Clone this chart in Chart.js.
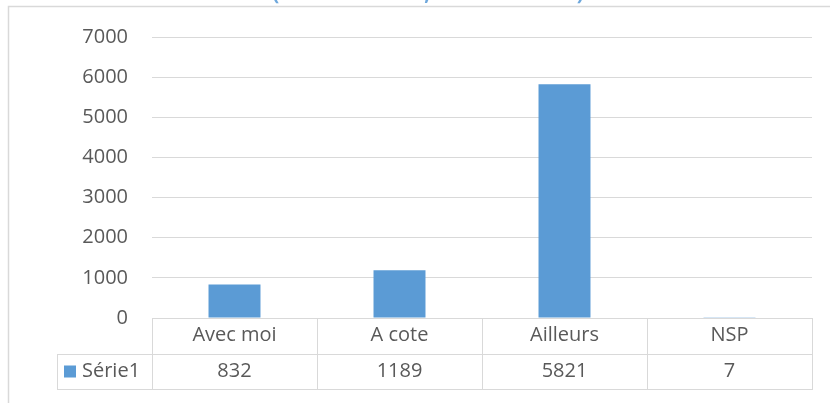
<!DOCTYPE html>
<html>
<head>
<meta charset="utf-8">
<script src="https://cdn.jsdelivr.net/npm/chart.js@4.4.0/dist/chart.umd.min.js"></script>
<style>
  html, body { margin: 0; padding: 0; background: #fff; }
  #wrap { width: 830px; height: 403px; position: relative; }
</style>
</head>
<body>
<div id="wrap"><canvas id="chart" width="830" height="403"></canvas></div>
<script>
// chart data
const categories = ['Avec moi', 'A cote', 'Ailleurs', 'NSP'];
const seriesName = 'Série1';
const seriesValues = [832, 1189, 5821, 7];
const yTicks = [0, 1000, 2000, 3000, 4000, 5000, 6000, 7000];
const titleText = '(de vos enfants, le cas échéant)';

const FONT = '"Open Sans", "Liberation Sans", sans-serif';
const TEXT = '#595959';
const LINE = '#d9d9d9';
const BLUE = '#5b9bd5';

// draws clipped title, chart frame and the data table under the plot
const tablePlugin = {
    id: 'dataTable',
    afterDraw(chart) {
        const ctx = chart.ctx;
        const area = chart.chartArea;
        const x = chart.scales.x;
        const rowH = 35.5;
        const legendLeft = 57;

        ctx.save();
        // frame
        ctx.strokeStyle = LINE;
        ctx.lineWidth = 1.5;
        ctx.beginPath();
        ctx.moveTo(8.5, 403);
        ctx.lineTo(8.5, 6.5);
        ctx.lineTo(830, 6.5);
        ctx.stroke();

        // title, mostly cut off at the top
        ctx.fillStyle = '#6fa8dc';
        ctx.font = 'bold 20px ' + FONT;
        ctx.textAlign = 'center';
        ctx.textBaseline = 'alphabetic';
        ctx.fillText(titleText, 428, 0);

        // table grid
        ctx.lineWidth = 1;
        ctx.strokeStyle = LINE;
        const top = area.bottom;
        const mid = top + rowH;
        const bot = mid + rowH;
        const edges = [];
        const step = (x.getPixelForValue(1) - x.getPixelForValue(0));
        for (let i = 0; i <= categories.length; i++) {
            edges.push(Math.round(x.getPixelForValue(i) - step / 2) + 0.5);
        }
        ctx.beginPath();
        ctx.moveTo(edges[0], Math.round(top) + 0.5);
        ctx.lineTo(edges[edges.length - 1], Math.round(top) + 0.5);
        ctx.moveTo(legendLeft + 0.5, Math.round(mid) + 0.5);
        ctx.lineTo(edges[edges.length - 1], Math.round(mid) + 0.5);
        ctx.moveTo(legendLeft + 0.5, Math.round(bot) + 0.5);
        ctx.lineTo(edges[edges.length - 1], Math.round(bot) + 0.5);
        ctx.moveTo(legendLeft + 0.5, Math.round(mid));
        ctx.lineTo(legendLeft + 0.5, Math.round(bot) + 1);
        edges.forEach(e => {
            ctx.moveTo(e, Math.round(top));
            ctx.lineTo(e, Math.round(bot) + 1);
        });
        ctx.stroke();

        // cell texts
        ctx.fillStyle = TEXT;
        ctx.font = '20px ' + FONT;
        ctx.textAlign = 'center';
        ctx.textBaseline = 'middle';
        categories.forEach((c, i) => {
            const cx = x.getPixelForValue(i);
            ctx.fillText(c, cx, top + rowH / 2);
            ctx.fillText(String(seriesValues[i]), cx, mid + rowH / 2);
        });

        // legend key
        ctx.fillStyle = BLUE;
        ctx.fillRect(64, mid + 12, 12, 12);
        ctx.fillStyle = TEXT;
        ctx.textAlign = 'left';
        ctx.fillText(seriesName, 82, mid + rowH / 2);
        ctx.restore();
    }
};

new Chart(document.getElementById('chart'), {
    type: 'bar',
    data: {
        labels: categories,
        datasets: [{
            label: seriesName,
            data: seriesValues,
            backgroundColor: BLUE,
            borderWidth: 0,
            categoryPercentage: 1,
            barPercentage: 0.315
        }]
    },
    options: {
        responsive: false,
        animation: false,
        devicePixelRatio: 1,
        layout: { padding: { top: 37, right: 18, bottom: 85, left: 0 } },
        plugins: {
            legend: { display: false },
            title: { display: false },
            tooltip: { enabled: false }
        },
        scales: {
            x: { display: false },
            y: {
                min: 0,
                max: 7000,
                afterBuildTicks: s => { s.ticks = yTicks.map(v => ({ value: v })); },
                afterFit: s => { s.width = 152; },
                border: { display: false },
                grid: { color: LINE, lineWidth: 1, drawTicks: false },
                ticks: {
                    color: TEXT,
                    padding: 24,
                    font: { family: FONT, size: 20 },
                    callback: v => String(v)
                }
            }
        }
    },
    plugins: [tablePlugin]
});
</script>
</body>
</html>
